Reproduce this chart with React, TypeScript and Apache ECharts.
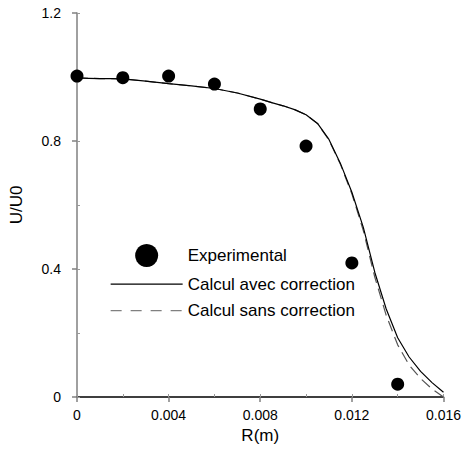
import React, { useEffect, useRef } from "react";
import * as echarts from "echarts";

const expR = [0, 0.002, 0.004, 0.006, 0.008, 0.01, 0.012, 0.014];
const expU = [1.003, 0.998, 1.003, 0.978, 0.9, 0.784, 0.419, 0.04];

const curveR = [
  0, 0.0005, 0.001, 0.0015, 0.002, 0.003, 0.004, 0.005, 0.006, 0.007, 0.008,
  0.0085, 0.009, 0.0095, 0.01, 0.0105, 0.011, 0.0115, 0.012, 0.0125, 0.013,
  0.0135, 0.014, 0.0145, 0.015, 0.0155, 0.016,
];
const avecU = [
  0.997, 0.996, 0.995, 0.995, 0.994, 0.987, 0.979, 0.972, 0.964, 0.95, 0.931,
  0.92, 0.91, 0.898, 0.882, 0.855, 0.805, 0.73, 0.64, 0.53, 0.39, 0.275,
  0.185, 0.125, 0.08, 0.045, 0.015,
];
const sansU = [
  0.997, 0.996, 0.995, 0.995, 0.994, 0.987, 0.979, 0.972, 0.964, 0.95, 0.931,
  0.92, 0.91, 0.898, 0.882, 0.855, 0.803, 0.727, 0.635, 0.52, 0.375, 0.255,
  0.163, 0.1, 0.058, 0.025, 0.0,
];

const xTicks = ["0", "0.004", "0.008", "0.012", "0.016"];
const yTicks = ["0", "0.4", "0.8", "1.2"];

const FONT = "Liberation Sans, Arial, sans-serif";
const hiddenSymbol = { color: "rgba(0,0,0,0)", borderWidth: 0, opacity: 0 };

export default function App() {
  const ref = useRef<HTMLDivElement>(null);
  useEffect(() => {
    if (!ref.current) return;
    const chart = echarts.init(ref.current, undefined, { renderer: "svg" });
    const pairs = (xs: number[], ys: number[]) => xs.map((x, i) => [x, ys[i]]);
    chart.setOption({
      animation: false,
      backgroundColor: "#ffffff",
      textStyle: { fontFamily: FONT },
      grid: { left: 74, right: 20, top: 13, bottom: 64 },
      legend: {
        orient: "vertical",
        left: 110,
        top: 244,
        padding: 0,
        itemWidth: 72,
        itemHeight: 23,
        itemGap: 8,
        textStyle: { fontSize: 17, color: "#000", fontFamily: FONT },
        data: [
          { name: "Experimental", itemStyle: { color: "#000", opacity: 1 } },
          { name: "Calcul avec correction", itemStyle: hiddenSymbol, lineStyle: { color: "#000", width: 1.3 } },
          {
            name: "Calcul sans correction",
            itemStyle: hiddenSymbol,
            lineStyle: { color: "#808080", width: 1.3, type: [11, 9] },
          },
        ],
      },
      xAxis: [
        {
          type: "value",
          min: 0,
          max: 0.016,
          interval: 0.004,
          name: "R(m)",
          nameLocation: "middle",
          nameGap: 29,
          nameTextStyle: { fontSize: 17, color: "#000", fontFamily: FONT },
          axisLine: { lineStyle: { color: "#000", width: 1.5 } },
          axisTick: { show: true, length: 5, lineStyle: { color: "#808080", width: 1.5 } },
          axisLabel: {
            fontSize: 14,
            color: "#000",
            margin: 11,
            formatter: (v: number) => {
              const idx = Math.round(v / 0.004);
              return xTicks[idx] ?? "";
            },
          },
          splitLine: { show: false },
        },
        {
          type: "value",
          position: "bottom",
          min: 0,
          max: 0.016,
          interval: 0.002,
          axisLine: { show: false },
          axisTick: { show: true, inside: true, length: 3, lineStyle: { color: "#999" } },
          axisLabel: { show: false },
          splitLine: { show: false },
        },
      ],
      yAxis: [
        {
          type: "value",
          min: 0,
          max: 1.2,
          interval: 0.4,
          name: "U/U0",
          nameLocation: "middle",
          nameGap: 52,
          nameTextStyle: { fontSize: 17, color: "#000", fontFamily: FONT },
          axisLine: { show: true, lineStyle: { color: "#808080", width: 1.5 } },
          axisTick: { show: true, length: 5, lineStyle: { color: "#808080", width: 1.5 } },
          axisLabel: {
            fontSize: 14,
            color: "#000",
            margin: 16,
            formatter: (v: number) => {
              const idx = Math.round(v / 0.4);
              return yTicks[idx] ?? "";
            },
          },
          splitLine: { show: false },
        },
        {
          type: "value",
          position: "left",
          min: 0,
          max: 1.2,
          interval: 0.2,
          axisLine: { show: false },
          axisTick: { show: true, inside: true, length: 3, lineStyle: { color: "#999" } },
          axisLabel: { show: false },
          splitLine: { show: false },
        },
      ],
      series: [
        {
          name: "Calcul avec correction",
          type: "line",
          data: pairs(curveR, avecU),
          showSymbol: false,
          symbol: "none",
          lineStyle: { color: "#000", width: 1.2 },
          itemStyle: { color: "#000" },
          z: 2,
        },
        {
          name: "Calcul sans correction",
          type: "line",
          data: pairs(curveR, sansU),
          showSymbol: false,
          symbol: "none",
          lineStyle: { color: "#555", width: 1.2, type: [11, 6] },
          itemStyle: { color: "#555" },
          z: 1,
        },
        {
          name: "Experimental",
          type: "scatter",
          data: pairs(expR, expU),
          symbol: "circle",
          symbolSize: 13,
          itemStyle: { color: "#000", opacity: 1 },
          z: 3,
        },
      ],
    });
    return () => chart.dispose();
  }, []);
  return <div ref={ref} style={{ width: 464, height: 461, position: "absolute", left: 0, top: 0 }} />;
}
